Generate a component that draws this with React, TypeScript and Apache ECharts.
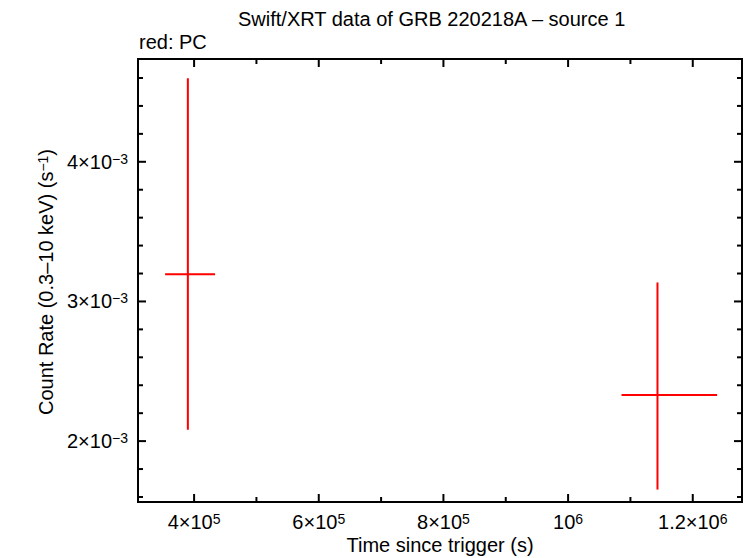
import React, { useEffect, useRef } from "react";
import * as echarts from "echarts";

// ---- data ----
const timeMid = [390000, 1143400];
const timeLow = [353500, 1085700];
const timeHigh = [433700, 1239100];
const rateMid = [0.003194, 0.00233];
const rateLow = [0.002081, 0.001653];
const rateHigh = [0.004598, 0.003136];

const xMajorTicks = [400000, 600000, 800000, 1000000, 1200000];
const xMinorTicks = [500000, 700000, 900000, 1100000];
const yMajorTicks = [0.002, 0.003, 0.004];
const yMinorTicks = [
  0.0016, 0.0018, 0.0022, 0.0024, 0.0026, 0.0028, 0.0032, 0.0034, 0.0036,
  0.0038, 0.0042, 0.0044, 0.0046,
];

const xRange = [310000, 1279000];
const yRange = [0.001564, 0.004736];

const titleText = "Swift/XRT data of GRB 220218A \u2013 source 1";
const subtitleText = "red: PC";
const xName = "Time since trigger (s)";
const yName = "Count Rate (0.3\u201310 keV) (s{s|\u22121})";

const FONT = "Liberation Sans, Arial, Helvetica, sans-serif";

function sciLabel(v: number): string {
  const exp = Math.floor(Math.log10(v) + 1e-9);
  const m = Math.round((v / Math.pow(10, exp)) * 10) / 10;
  const expStr = exp < 0 ? "\u2212" + Math.abs(exp) : String(exp);
  if (m === 1) return `{b|10}{s|${expStr}}`;
  return `{b|${m}\u00d710}{s|${expStr}}`;
}

function richSci() {
  return {
    b: { fontSize: 20, fontFamily: FONT, color: "#000" },
    s: { fontSize: 14, fontFamily: FONT, color: "#000", verticalAlign: "top", lineHeight: 14 },
  };
}

function labelAxis(kind: "x" | "y"): any {
  const range = kind === "x" ? xRange : yRange;
  const majorTicks = kind === "x" ? xMajorTicks : yMajorTicks;
  return {
    type: "value",
    position: kind === "x" ? "bottom" : "left",
    min: range[0],
    max: range[1],
    splitLine: { show: false },
    axisLine: { show: false, onZero: false },
    axisTick: { show: false },
    axisLabel: {
      show: true,
      customValues: majorTicks,
      margin: 10,
      formatter: (v: number) => sciLabel(v),
      rich: richSci(),
    },
  };
}

export default function App() {
  const ref = useRef<HTMLDivElement>(null);
  useEffect(() => {
    if (!ref.current) return;
    const chart = echarts.init(ref.current, null, { renderer: "svg" });
    const data = timeMid.map((t, i) => [t, timeLow[i], timeHigh[i], rateMid[i], rateLow[i], rateHigh[i]]);

    // tick marks: [x value, y value, kind (0 = x tick, 1 = y tick), major (1/0)]
    const tickData: number[][] = [
      ...xMajorTicks.map((v) => [v, yRange[0], 0, 1]),
      ...xMinorTicks.map((v) => [v, yRange[0], 0, 0]),
      ...yMajorTicks.map((v) => [xRange[0], v, 1, 1]),
      ...yMinorTicks.map((v) => [xRange[0], v, 1, 0]),
    ];

    const black = { stroke: "#000", lineWidth: 2 };

    chart.setOption({
      animation: false,
      title: [
        {
          text: titleText,
          left: 238,
          top: 9,
          padding: 0,
          textStyle: { fontSize: 20, fontWeight: "normal", fontFamily: FONT, color: "#000" },
        },
        {
          text: subtitleText,
          left: 139,
          top: 32,
          padding: 0,
          textStyle: { fontSize: 20, fontWeight: "normal", fontFamily: FONT, color: "#000" },
        },
      ],
      grid: {
        left: 138,
        right: 4,
        top: 59,
        bottom: 56,
        outerBoundsMode: "none",
        show: true,
        borderColor: "#000",
        borderWidth: 2,
        backgroundColor: "transparent",
      },
      xAxis: [labelAxis("x")],
      yAxis: [labelAxis("y")],
      graphic: [
        {
          type: "text",
          x: 440,
          y: 545,
          style: {
            text: xName,
            fontSize: 20,
            fontFamily: FONT,
            fill: "#000",
            align: "center",
            verticalAlign: "middle",
          },
        },
        {
          type: "text",
          x: 46,
          y: 282,
          rotation: Math.PI / 2,
          style: {
            text: yName,
            fontSize: 20,
            fontFamily: FONT,
            fill: "#000",
            align: "center",
            verticalAlign: "middle",
            rich: {
              s: { fontSize: 14, fontFamily: FONT, fill: "#000", verticalAlign: "top", lineHeight: 14 },
            },
          },
        },
      ],
      series: [
        {
          type: "custom",
          name: "ticks",
          silent: true,
          data: tickData,
          encode: { x: 0, y: 1 },
          renderItem: (params: any, api: any) => {
            const cs = params.coordSys;
            const kind = api.value(2);
            const len = api.value(3) ? 8 : 5;
            const p = api.coord([api.value(0), api.value(1)]);
            const top = cs.y;
            const bottom = cs.y + cs.height;
            const left = cs.x;
            const right = cs.x + cs.width;
            if (kind === 0) {
              return {
                type: "group",
                children: [
                  { type: "line", shape: { x1: p[0], y1: bottom, x2: p[0], y2: bottom - len }, style: black },
                  { type: "line", shape: { x1: p[0], y1: top, x2: p[0], y2: top + len }, style: black },
                ],
              };
            }
            return {
              type: "group",
              children: [
                { type: "line", shape: { x1: left, y1: p[1], x2: left + len, y2: p[1] }, style: black },
                { type: "line", shape: { x1: right, y1: p[1], x2: right - len, y2: p[1] }, style: black },
              ],
            };
          },
        },
        {
          type: "custom",
          name: "PC",
          data,
          encode: { x: 0, y: 3 },
          renderItem: (params: any, api: any) => {
            const c = api.coord([api.value(0), api.value(3)]);
            const l = api.coord([api.value(1), api.value(3)]);
            const h = api.coord([api.value(2), api.value(3)]);
            const lo = api.coord([api.value(0), api.value(4)]);
            const hi = api.coord([api.value(0), api.value(5)]);
            const style = { stroke: "#ff0000", lineWidth: 2 };
            return {
              type: "group",
              children: [
                { type: "line", shape: { x1: l[0], y1: c[1], x2: h[0], y2: c[1] }, style },
                { type: "line", shape: { x1: c[0], y1: hi[1], x2: c[0], y2: lo[1] }, style },
              ],
            };
          },
        },
      ],
    });
    return () => chart.dispose();
  }, []);

  return (
    <div
      ref={ref}
      style={{ position: "fixed", left: 0, top: 0, width: 746, height: 558, background: "#fff" }}
    />
  );
}
